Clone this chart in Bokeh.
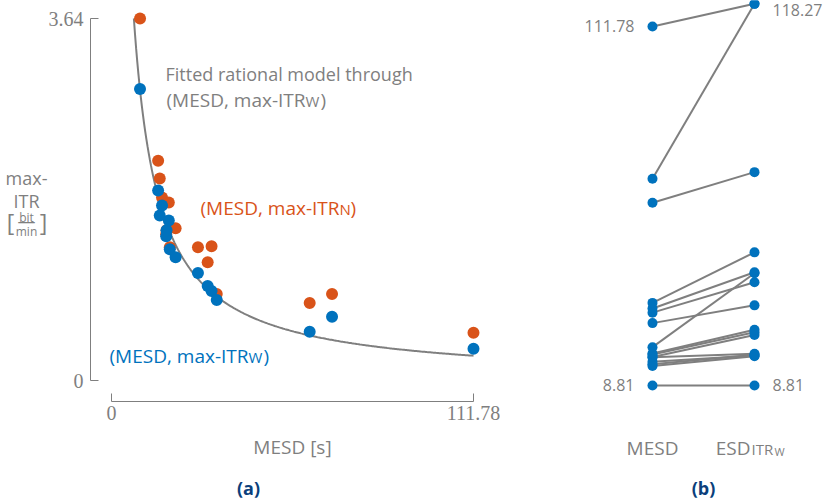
import numpy as np
from bokeh.plotting import figure
from bokeh.models import Range1d, FixedTicker, NumeralTickFormatter, Label, ColumnDataSource
from bokeh.layouts import row
from bokeh.embed import file_html
from bokeh.resources import INLINE
from bokeh.core.properties import value

# ---------------- data ----------------
mesd = [8.81, 14.4, 14.9, 15.6, 16.9, 17.0, 17.7, 18.0, 19.8, 26.7, 29.7, 30.9, 32.5, 61.2, 68.1, 111.78]
itr_w = [2.93, 1.91, 1.66, 1.76, 1.45, 1.51, 1.61, 1.32, 1.24, 1.08, 0.95, 0.90, 0.81, 0.49, 0.64, 0.32]
itr_n = [3.64, 2.21, 2.03, 1.84, 1.47, 1.51, 1.79, 1.34, 1.53, 1.34, 1.19, 1.35, 0.87, 0.78, 0.87, 0.48]
esd_itrw = [8.81, 17.2, 17.6, 17.4, 17.9, 23.3, 24.1, 24.8, 41.0, 31.8, 38.4, 41.3, 47.0, 70.0, 118.27, 118.27]

# points (used to fit the rational model)
curve_x = [6.70, 8.95, 10.81, 13.06, 19.24, 25.4, 32.6, 36.75, 61.4, 83.1, 111.78]
curve_y = [3.627, 2.916, 2.43, 2.11, 1.408, 1.073, 0.821, 0.737, 0.452, 0.335, 0.251]

columns = ["MESD", "ESD"]

ORANGE = "#D95319"
BLUE = "#0072BD"
GRAY = "#7f7f7f"
DARK = "#0b3f7c"
SANS = "Open Sans"
SERIF = "Liberation Serif"

# ---------------- fitted rational model ----------------
cx = np.array(curve_x)
cy = np.array(curve_y)
A = np.column_stack([cx, np.ones_like(cx), -cy])
p1, p2, q = np.linalg.lstsq(A, cy * cx, rcond=None)[0]
y_top = max(itr_n)
x_start = (p2 - y_top * q) / (y_top - p1)
fx = np.linspace(x_start, max(mesd), 300)
fy = (p1 * fx + p2) / (fx + q)

# ---------------- panel (a) ----------------
pa = figure(width=500, height=504, x_range=Range1d(-34.275, 120.12), y_range=Range1d(-1.2468, 3.821),
            output_backend="svg", toolbar_location=None, min_border=0)
pa.outline_line_color = None
pa.grid.visible = False
pa.background_fill_color = "white"
pa.border_fill_color = "white"

for ax in (pa.xaxis[0], pa.yaxis[0]):
    ax.axis_line_color = GRAY
    ax.axis_line_width = 1
    ax.major_tick_line_color = GRAY
    ax.major_tick_in = 8
    ax.major_tick_out = 0
    ax.minor_tick_line_color = None
    ax.major_label_text_font = SERIF
    ax.major_label_text_font_size = "20px"
    ax.major_label_text_color = GRAY
    ax.formatter = NumeralTickFormatter(format="0.[00]")

pa.xaxis.ticker = FixedTicker(ticks=[0, max(mesd)])
pa.xaxis.bounds = (0, max(mesd))
pa.xaxis.fixed_location = -0.2112
pa.yaxis.ticker = FixedTicker(ticks=[0, max(itr_n)])
pa.yaxis.bounds = (0, max(itr_n))
pa.yaxis.fixed_location = -6.484
pa.xaxis.major_label_standoff = 4
pa.yaxis.major_label_standoff = 7

pa.line(fx, fy, line_color=GRAY, line_width=2)
pa.scatter(mesd, itr_n, size=12, color=ORANGE, line_color=None)
pa.scatter(mesd, itr_w, size=12, color=BLUE, line_color=None)


def lab(p, X, Y, text, size, color, align="left", baseline="alphabetic", style="normal", fl=0, fb=504):
    p.add_layout(Label(x=X - fl, y=fb - Y, x_units="screen", y_units="screen", text=text,
                       text_font=SANS, text_font_size=f"{size}px", text_color=color,
                       text_align=align, text_baseline=baseline, text_font_style=style))


# annotations
lab(pa, 165, 73, "Fitted rational model through", 18, GRAY)
lab(pa, 305, 99, "(MESD, max-ITR", 19, GRAY, align="right")
lab(pa, 305, 100, "W", 15, GRAY)
lab(pa, 320, 99, ")", 19, GRAY)

lab(pa, 339, 207, "(MESD, max-ITR", 19, ORANGE, align="right")
lab(pa, 339, 208, "N", 15, ORANGE)
lab(pa, 350, 207, ")", 19, ORANGE)

lab(pa, 248, 355, "(MESD, max-ITR", 19, BLUE, align="right")
lab(pa, 248, 356, "W", 15, BLUE)
lab(pa, 263, 355, ")", 19, BLUE)

# y label
lab(pa, 26, 177, "max-", 18, GRAY, align="center")
lab(pa, 26, 200, "ITR", 18, GRAY, align="center")
lab(pa, 10, 221, "[", 23, GRAY, align="center", baseline="middle")
lab(pa, 43, 221, "]", 23, GRAY, align="center", baseline="middle")
lab(pa, 26, 217, "bit", 12, GRAY, align="center")
lab(pa, 26, 220, "\u2014", 18, GRAY, align="center", baseline="middle")
lab(pa, 26, 231, "min", 12, GRAY, align="center")

# x label and panel tag
lab(pa, 292, 446, "MESD [s]", 19, GRAY, align="center")
lab(pa, 248, 487, "(a)", 18, DARK, align="center", baseline="middle", style="bold")

# ---------------- panel (b) ----------------
pb = figure(width=325, height=504, x_range=Range1d(-1.490, 1.696), y_range=Range1d(-25.32, 119.23),
            x_axis_location=None, y_axis_location=None, min_border=0,
            output_backend="svg", toolbar_location=None)
pb.outline_line_color = None
pb.grid.visible = False
pb.background_fill_color = "white"
pb.border_fill_color = "white"

n = len(mesd)
src = ColumnDataSource(dict(x0=[0] * n, y0=mesd, x1=[1] * n, y1=esd_itrw))
pb.segment("x0", "y0", "x1", "y1", source=src, line_color=GRAY, line_width=2)
pb.scatter([0] * n, mesd, size=10, color=BLUE, line_color=None)
pb.scatter([1] * n, esd_itrw, size=10, color=BLUE, line_color=None)

lv = [min(mesd), max(mesd)]
rv = [min(esd_itrw), max(esd_itrw)]
pb.text(x=[0, 0], y=lv, text=[f"{v:.2f}" for v in lv], x_offset=-18, text_align="right",
        text_baseline="middle", text_font=value(SANS), text_font_size="16px", text_color=GRAY)
pb.text(x=[1, 1], y=rv, text=[f"{v:.2f}" for v in rv], x_offset=18, y_offset=[0, 6], text_align="left",
        text_baseline="middle", text_font=value(SANS), text_font_size="16px", text_color=GRAY)

BL = 500
lab(pb, 652, 447, columns[0], 19, GRAY, align="center", fl=BL)
lab(pb, 750, 447, columns[1], 19, GRAY, align="right", fl=BL)
lab(pb, 751, 448, "ITR", 15, GRAY, fl=BL)
lab(pb, 774, 451, "W", 11, GRAY, fl=BL)
lab(pb, 703, 487, "(b)", 18, DARK, align="center", baseline="middle", style="bold", fl=BL)

layout = row(pa, pb)
open("out.html", "w").write(file_html(layout, INLINE))
